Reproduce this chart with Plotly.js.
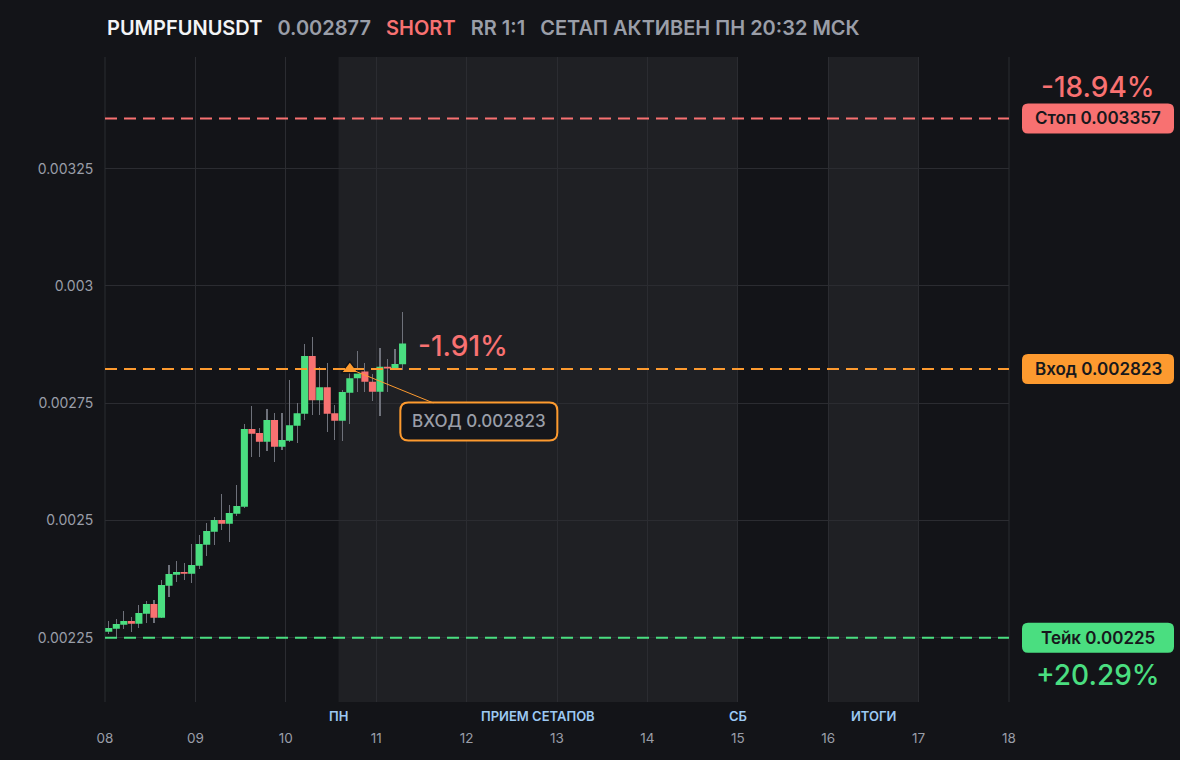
<!DOCTYPE html>
<html>
<head>
<meta charset="utf-8">
<script src="https://cdn.plot.ly/plotly-3.0.1.min.js"></script>
<style>
  html, body { margin: 0; padding: 0; background: #131418; }
  #chart { width: 1180px; height: 760px; }
</style>
</head>
<body>
<div id="chart"></div>
<script>
// ---------------- DATA ----------------
const symbol = 'PUMPFUNUSDT';
const lastPrice = '0.002877';
const side = 'SHORT';
const rr = 'RR 1:1';
const status = 'СЕТАП АКТИВЕН ПН 20:32 МСК';

const times = [
  '2025-11-08 01:00','2025-11-08 03:00','2025-11-08 05:00','2025-11-08 07:00','2025-11-08 09:00','2025-11-08 11:00',
  '2025-11-08 13:00','2025-11-08 15:00','2025-11-08 17:00','2025-11-08 19:00','2025-11-08 21:00','2025-11-08 23:00',
  '2025-11-09 01:00','2025-11-09 03:00','2025-11-09 05:00','2025-11-09 07:00','2025-11-09 09:00','2025-11-09 11:00',
  '2025-11-09 13:00','2025-11-09 15:00','2025-11-09 17:00','2025-11-09 19:00','2025-11-09 21:00','2025-11-09 23:00',
  '2025-11-10 01:00','2025-11-10 03:00','2025-11-10 05:00','2025-11-10 07:00','2025-11-10 09:00','2025-11-10 11:00',
  '2025-11-10 13:00','2025-11-10 15:00','2025-11-10 17:00','2025-11-10 19:00','2025-11-10 21:00','2025-11-10 23:00',
  '2025-11-11 01:00','2025-11-11 03:00','2025-11-11 05:00','2025-11-11 07:00'
];
const open  = [0.0022629,0.0022693,0.0022778,0.0022857,0.0022800,0.0023013,0.0023220,0.0022927,0.0023610,0.0023844,
               0.0023902,0.0023866,0.0024036,0.0024484,0.0024761,0.0025011,0.0024932,0.0025145,0.0025294,0.0026951,
               0.0026866,0.0026680,0.0027143,0.0026574,0.0026701,0.0027021,0.0027277,0.0028507,0.0027563,0.0027840,
               0.0027286,0.0027128,0.0027725,0.0028032,0.0028173,0.0027959,0.0027746,0.0028279,0.0028230,0.0028330];
const high  = [0.0022857,0.0022900,0.0023070,0.0022942,0.0023198,0.0023284,0.0023305,0.0023731,0.0024051,0.0024136,
               0.0024094,0.0024499,0.0024691,0.0024947,0.0025075,0.0025565,0.0025330,0.0025757,0.0027051,0.0027441,
               0.0026966,0.0027371,0.0027286,0.0027286,0.0027996,0.0027499,0.0028763,0.0028906,0.0028279,0.0028352,
               0.0027463,0.0027783,0.0028279,0.0028614,0.0028358,0.0028117,0.0028684,0.0028443,0.0028657,0.0029439];
const low   = [0.0022580,0.0022488,0.0022693,0.0022629,0.0022714,0.0022821,0.0022821,0.0022915,0.0023375,0.0023695,
               0.0023738,0.0023674,0.0023972,0.0024250,0.0024484,0.0024804,0.0024548,0.0025102,0.0025275,0.0026347,
               0.0026360,0.0026482,0.0026254,0.0026510,0.0026674,0.0026646,0.0027143,0.0027249,0.0027249,0.0026893,
               0.0026716,0.0026701,0.0027058,0.0027733,0.0027740,0.0027554,0.0027235,0.0027733,0.0028220,0.0028209];
const close = [0.0022708,0.0022793,0.0022857,0.0022800,0.0023028,0.0023220,0.0022927,0.0023625,0.0023859,0.0023902,
               0.0023866,0.0024051,0.0024499,0.0024776,0.0025011,0.0024932,0.0025160,0.0025309,0.0026951,0.0026851,
               0.0026680,0.0027143,0.0026574,0.0026716,0.0027030,0.0027286,0.0028507,0.0027563,0.0027840,0.0027277,
               0.0027128,0.0027740,0.0028032,0.0028139,0.0027959,0.0027746,0.0028279,0.0028237,0.0028337,0.0028770];

const stopPrice  = 0.003357;
const entryPrice = 0.002823;
const takePrice  = 0.00225;
const entryTime  = '2025-11-10 17:00';
const stopLabel  = 'Стоп 0.003357';
const entryLabel = 'Вход 0.002823';
const takeLabel  = 'Тейк 0.00225';
const stopPct    = '-18.94%';
const takePct    = '+20.29%';
const livePct    = '-1.91%';
const entryNote  = 'ВХОД 0.002823';

const yTickVals  = [0.00225, 0.0025, 0.00275, 0.003, 0.00325];
const yTickText  = ['0.00225', '0.0025', '0.00275', '0.003', '0.00325'];

const zones = [
  { start: '2025-11-10 14:00', end: '2025-11-15 00:00' },
  { start: '2025-11-16 00:00', end: '2025-11-17 00:00' }
];
const zoneLabels = [
  { x: '2025-11-10 14:00', text: 'ПН' },
  { x: '2025-11-12 19:00', text: 'ПРИЕМ СЕТАПОВ' },
  { x: '2025-11-15 00:00', text: 'СБ' },
  { x: '2025-11-16 12:00', text: 'ИТОГИ' }
];
const xRange = ['2025-11-08 00:00', '2025-11-18 00:00'];
const yRange = [0.002113, 0.003488];

// ---------------- STYLE ----------------
const BG = '#131418', SHADE = '#1f2024', GRID = '#2b2c31';
const GREEN = '#4ade80', RED = '#f87171', ORANGE = '#fd9a2f';
const GRAY = '#9a9ea8', BLUE = '#9cc9f3', DARKTXT = '#17181c';
const FONT = 'Inter, "Noto Sans", sans-serif';
const M = { l: 105, r: 171, t: 57, b: 58 };
const PW = 1180 - M.l - M.r, PH = 760 - M.t - M.b;
const labelX = (1098 - M.l) / PW;

function rrect(x0, y0, x1, y1, r) {
  const xa = Math.min(x0, x1), xb = Math.max(x0, x1);
  const ya = Math.min(y0, y1), yb = Math.max(y0, y1);
  return `M ${xa + r} ${ya} L ${xb - r} ${ya} Q ${xb} ${ya} ${xb} ${ya + r} ` +
         `L ${xb} ${yb - r} Q ${xb} ${yb} ${xb - r} ${yb} L ${xa + r} ${yb} ` +
         `Q ${xa} ${yb} ${xa} ${yb - r} L ${xa} ${ya + r} Q ${xa} ${ya} ${xa + r} ${ya} Z`;
}

// ---------------- TRACES ----------------
const wickLen = high.map((h, i) => h - low[i]);
const wicks = {
  type: 'bar', x: times, y: wickLen, base: low,
  width: 1.1 * 86400000 / 90.4,
  marker: { color: '#6e717a', line: { width: 0 } },
  hoverinfo: 'skip', showlegend: false
};
const candles = {
  type: 'candlestick', x: times, open: open, high: high, low: low, close: close,
  increasing: { fillcolor: GREEN, line: { color: GREEN, width: 0 } },
  decreasing: { fillcolor: RED, line: { color: RED, width: 0 } },
  whiskerwidth: 0, hoverinfo: 'skip', showlegend: false
};
const entryMark = {
  type: 'scatter', mode: 'markers', x: [entryTime], y: [entryPrice],
  marker: { symbol: 'triangle-up', size: 15, color: ORANGE, line: { color: BG, width: 1.5 } },
  cliponaxis: false, hoverinfo: 'skip', showlegend: false
};

// ---------------- SHAPES ----------------
const shapes = [];
zones.forEach(z => shapes.push({
  type: 'rect', xref: 'x', yref: 'paper', x0: z.start, x1: z.end, y0: 0, y1: 1,
  fillcolor: SHADE, line: { width: 0 }, layer: 'below'
}));
[0, 1].forEach(px => shapes.push({
  type: 'line', xref: 'paper', yref: 'paper', x0: px, x1: px, y0: 0, y1: 1,
  line: { color: GRID, width: 1 }, layer: 'below'
}));
[[stopPrice, RED], [entryPrice, ORANGE], [takePrice, GREEN]].forEach(([p, c]) => shapes.push({
  type: 'line', xref: 'paper', yref: 'y', x0: 0, x1: 1, y0: p, y1: p,
  line: { color: c, width: 2, dash: '12px,7px' }, layer: 'above'
}));
[[stopPrice, RED], [entryPrice, ORANGE], [takePrice, GREEN]].forEach(([p, c]) => shapes.push({
  type: 'path', xref: 'paper', yref: 'y', xsizemode: 'pixel', ysizemode: 'pixel',
  xanchor: labelX, yanchor: p, path: rrect(-76, -15, 76, 15, 6),
  fillcolor: c, line: { width: 0 }, layer: 'above'
}));
shapes.push({
  type: 'path', xref: 'x', yref: 'y', xsizemode: 'pixel', ysizemode: 'pixel',
  xanchor: entryTime, yanchor: entryPrice, path: rrect(50.5, -33.5, 207.5, -71.5, 8),
  fillcolor: '#15161b', line: { color: ORANGE, width: 2 }, layer: 'above'
});

// ---------------- ANNOTATIONS ----------------
const ann = [];
const gap = '\u00A0\u00A0\u2005';
ann.push({
  xref: 'paper', yref: 'paper', x: 0, y: 1 + 29 / PH, xanchor: 'left', yanchor: 'middle', showarrow: false,
  text: `<span style="color:#f3f4f6">${symbol}</span>${gap}<span style="color:${GRAY}">${lastPrice}</span>` +
        `${gap}<span style="color:${RED}">${side}</span>${gap}<span style="color:${GRAY}">${rr}</span>` +
        `${gap}<span style="color:${GRAY}">${status}</span>`,
  font: { family: FONT, size: 20, weight: 600, color: GRAY }
});
[[stopLabel, stopPrice], [entryLabel, entryPrice], [takeLabel, takePrice]].forEach(([t, p]) => ann.push({
  xref: 'paper', yref: 'y', x: labelX, y: p, xanchor: 'center', yanchor: 'middle', showarrow: false,
  text: t, font: { family: FONT, size: 17, weight: 600, color: DARKTXT }
}));
ann.push({
  xref: 'paper', yref: 'y', x: labelX, y: stopPrice, yshift: 31, xanchor: 'center', yanchor: 'middle',
  showarrow: false, text: stopPct, font: { family: FONT, size: 28, weight: 500, color: RED }
});
ann.push({
  xref: 'paper', yref: 'y', x: labelX, y: takePrice, yshift: -37.5, xanchor: 'center', yanchor: 'middle',
  showarrow: false, text: takePct, font: { family: FONT, size: 28, weight: 500, color: GREEN }
});
ann.push({
  xref: 'x', yref: 'y', x: times[times.length - 1], y: close[close.length - 1], xshift: 13, yshift: -2.5,
  xanchor: 'left', yanchor: 'middle', showarrow: false, text: livePct,
  font: { family: FONT, size: 28, weight: 500, color: RED }
});
ann.push({
  xref: 'x', yref: 'y', x: entryTime, y: entryPrice, ax: 129, ay: 52.5, axref: 'pixel', ayref: 'pixel',
  showarrow: true, arrowhead: 0, arrowwidth: 1, arrowcolor: ORANGE, standoff: 0,
  text: entryNote, borderpad: 8, bgcolor: 'rgba(0,0,0,0)',
  font: { family: FONT, size: 17, weight: 500, color: GRAY }
});
zoneLabels.forEach(z => ann.push({
  xref: 'x', yref: 'paper', x: z.x, y: -14 / PH, xanchor: 'center', yanchor: 'middle', showarrow: false,
  text: z.text, font: { family: FONT, size: 13, weight: 600, color: BLUE }
}));

// ---------------- LAYOUT ----------------
const layout = {
  width: 1180, height: 760,
  margin: M,
  paper_bgcolor: BG, plot_bgcolor: BG,
  showlegend: false, hovermode: false,
  boxgap: 0.06, boxgroupgap: 0, bargap: 0,
  font: { family: FONT, color: GRAY },
  xaxis: {
    type: 'date', range: xRange, rangeslider: { visible: false },
    dtick: 86400000, tickformat: '%d', tick0: '2025-11-08',
    showgrid: true, gridcolor: GRID, gridwidth: 1, zeroline: false, showline: false,
    ticks: 'outside', ticklen: 24, tickcolor: 'rgba(0,0,0,0)',
    tickfont: { family: FONT, size: 13.5, color: GRAY }
  },
  yaxis: {
    range: yRange, tickvals: yTickVals, ticktext: yTickText,
    showgrid: true, gridcolor: GRID, gridwidth: 1, zeroline: false, showline: false,
    ticks: 'outside', ticklen: 8, tickcolor: 'rgba(0,0,0,0)',
    tickfont: { family: FONT, size: 14, color: GRAY }
  },
  shapes: shapes,
  annotations: ann
};

Plotly.newPlot('chart', [wicks, candles, entryMark], layout, { displayModeBar: false, staticPlot: true });
</script>
</body>
</html>
